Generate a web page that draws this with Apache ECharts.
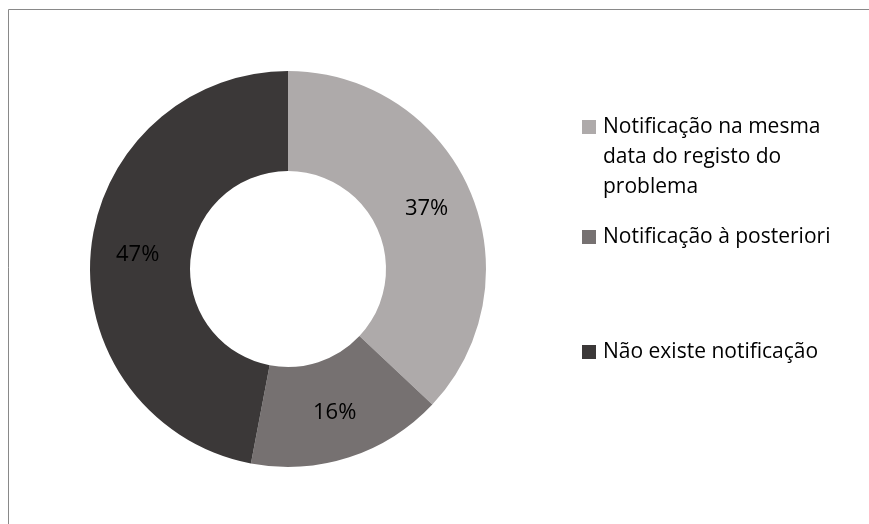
<!DOCTYPE html>
<html>
<head>
<meta charset="utf-8">
<script src="https://cdn.jsdelivr.net/npm/echarts@6/dist/echarts.min.js"></script>
<style>
  html, body { margin: 0; padding: 0; background: #fff; }
  #chart { width: 869px; height: 524px; }
</style>
</head>
<body>
<div id="chart"></div>
<script>
// Notification timing shares
const categories = [
  'Notificação na mesma data do registo do problema',
  'Notificação à posteriori',
  'Não existe notificação'
];
const values = [37, 16, 47];
const legendLabels = [
  'Notificação na mesma\ndata do registo do\nproblema',
  'Notificação à posteriori',
  'Não existe notificação'
];
const colors = ['#aeaaaa', '#767171', '#3b3838'];

const FONT = 'Open Sans';
const LINE_H = 30;

// Square swatch pinned to the first text line of a (possibly multi-line) entry
function swatchFor(lines) {
  const h = lines * LINE_H;
  const y0 = LINE_H / 2 - 7;
  return {
    icon: 'path://M0,' + y0 + 'H14V' + (y0 + 14) + 'H0Z M0,0 M14,' + h,
    height: h
  };
}

const legendTops = [112, 222, 337];

const chart = echarts.init(document.getElementById('chart'), null, { renderer: 'canvas' });

const legends = categories.map((name, i) => {
  const lines = legendLabels[i].split('\n').length;
  const sw = swatchFor(lines);
  return {
    data: [name],
    left: 582,
    top: legendTops[i],
    padding: 0,
    orient: 'vertical',
    icon: sw.icon,
    itemWidth: 14,
    itemHeight: sw.height,
    itemGap: 0,
    selectedMode: false,
    formatter: () => legendLabels[i],
    textStyle: {
      fontFamily: FONT,
      fontSize: 21,
      color: '#000',
      lineHeight: LINE_H,
      padding: [0, 0, 0, 2]
    }
  };
});

chart.setOption({
  animation: false,
  color: colors,
  graphic: [{
    type: 'rect',
    shape: { x: 8.5, y: 9.5, width: 880, height: 540 },
    style: { fill: 'none', stroke: '#898989', lineWidth: 1 },
    silent: true,
    z: -1
  }],
  legend: legends,
  series: [{
    type: 'pie',
    center: [288, 269],
    radius: [98, 198],
    startAngle: 90,
    clockwise: true,
    avoidLabelOverlap: false,
    label: {
      show: true,
      position: 'inside',
      formatter: '{c}%',
      fontFamily: FONT,
      fontSize: 22,
      color: '#000'
    },
    labelLine: { show: false },
    itemStyle: { borderWidth: 0 },
    emphasis: { disabled: true },
    data: categories.map((name, i) => ({ name, value: values[i] }))
  }]
});
</script>
</body>
</html>
